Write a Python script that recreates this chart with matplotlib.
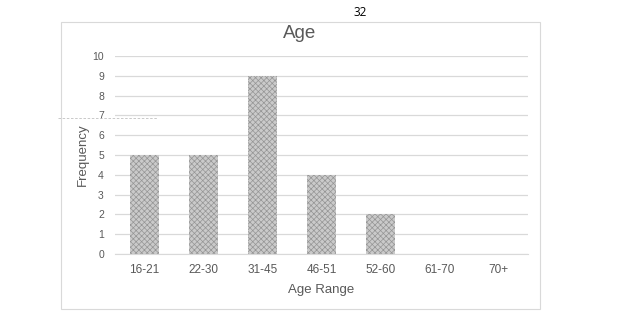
import matplotlib.pyplot as plt
from matplotlib.patches import Rectangle

plt.rcParams['font.family'] = ['Liberation Sans', 'DejaVu Sans']
plt.rcParams['hatch.linewidth'] = 0.5

age_ranges = ["16-21", "22-30", "31-45", "46-51", "52-60", "61-70", "70+"]
frequency = [5, 5, 9, 4, 2, 0, 0]
y_ticks = list(range(0, 11))

fig = plt.figure(figsize=(6.19, 3.30), dpi=100)
W, H = 619, 330

# outer chart frame
fig.patches.append(Rectangle((61 / W, 1 - 309 / H), (540 - 61) / W, (309 - 22) / H,
                             transform=fig.transFigure, fill=False,
                             edgecolor="#d9d9d9", linewidth=0.8))

ax = fig.add_axes([115 / W, 1 - 254 / H, (528 - 115) / W, (254 - 56) / H])
x = range(len(age_ranges))
ax.bar(x, frequency, width=0.5, color="#cacaca", edgecolor="#959595",
       hatch="xxxxxx", linewidth=0, zorder=3)

ax.set_xlim(-0.5, len(age_ranges) - 0.5)
ax.set_ylim(0, 10)
ax.set_yticks(y_ticks)
ax.set_xticks(list(x))
ax.set_xticklabels(age_ranges)
ax.yaxis.grid(True, color="#d9d9d9", linewidth=0.9, zorder=0)
ax.tick_params(axis="both", length=0, colors="#595959")
ax.tick_params(axis="y", labelsize=7.5, pad=8)
ax.tick_params(axis="x", labelsize=8.5, pad=7)
for side in ["top", "right", "left"]:
    ax.spines[side].set_visible(False)
ax.spines["bottom"].set_color("#d9d9d9")

fig.text(300 / W, 1 - 33 / H, "Age", fontsize=13.5, color="#595959",
         ha="center", va="center")
ax.set_xlabel("Age Range", fontsize=9.5, color="#595959", labelpad=6)
fig.text(83 / W, 1 - 155 / H, "Frequency", fontsize=9.5, color="#595959",
         rotation=90, ha="center", va="center")

# stray dotted line across the y axis at 7
fig.add_artist(plt.Line2D([58 / W, 157 / W], [1 - 118 / H, 1 - 118 / H],
                          color="#c0c0c0", linewidth=0.6, linestyle=(0, (3, 2))))

fig.text(360 / W, 1 - 12 / H, "32", fontsize=8.5, color="black",
         ha="center", va="center", family=["Open Sans", "DejaVu Sans"])

fig.savefig("out.png", dpi=100, facecolor="white")
